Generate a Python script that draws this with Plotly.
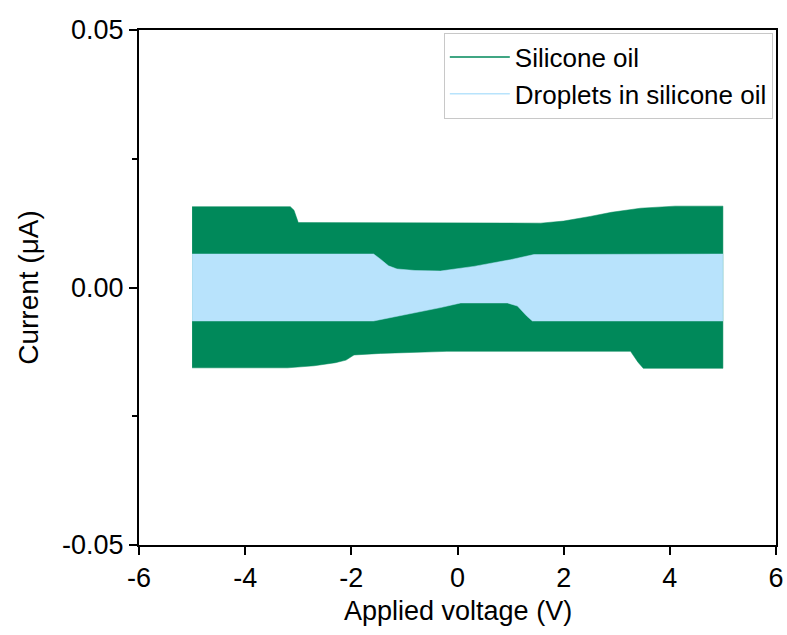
import plotly.graph_objects as go

# Envelope of the silicone oil current signal (V, µA)
oil_upper_v = [-5.0, -3.15, -3.08, -3.0, 1.57, 2.0, 2.5, 2.9, 3.45, 4.1, 5.0]
oil_upper_i = [0.0157, 0.0157, 0.0150, 0.0126, 0.0125, 0.0129, 0.0138, 0.0146, 0.0154, 0.0158, 0.0158]
oil_lower_v = [-5.0, -3.2, -2.7, -2.3, -2.1, -1.95, -1.45, -0.2, 3.26, 3.4, 3.5, 5.0]
oil_lower_i = [-0.0156, -0.0156, -0.0152, -0.0146, -0.0141, -0.0131, -0.0128, -0.0124, -0.0124, -0.0145, -0.0157, -0.0157]

# Envelope of the droplets-in-silicone-oil current signal
drop_upper_v = [-5.0, -1.58, -1.45, -1.3, -1.14, -0.8, -0.32, 0.31, 1.0, 1.44, 5.0]
drop_upper_i = [0.0065, 0.0065, 0.0055, 0.0042, 0.0036, 0.0033, 0.0032, 0.0041, 0.0054, 0.0064, 0.0065]
drop_lower_v = [-5.0, -1.58, -0.32, 0.06, 0.94, 1.13, 1.3, 1.41, 5.0]
drop_lower_i = [-0.0065, -0.0065, -0.0039, -0.0030, -0.0030, -0.0036, -0.0055, -0.0065, -0.0065]

x_ticks = [-6, -4, -2, 0, 2, 4, 6]
x_labels = ["-6", "-4", "-2", "0", "2", "4", "6"]
y_ticks = [-0.05, 0.0, 0.05]
y_labels = ["-0.05", "0.00", "0.05"]

GREEN = "rgb(0,137,90)"
BLUE = "rgb(184,227,252)"
FONT = "Liberation Sans, Arial, sans-serif"

fig = go.Figure()
fig.add_trace(go.Scatter(
    x=oil_upper_v + oil_lower_v[::-1],
    y=oil_upper_i + oil_lower_i[::-1],
    fill="toself", fillcolor=GREEN, mode="lines",
    line=dict(color=GREEN, width=0.5), showlegend=False, hoverinfo="skip"))
fig.add_trace(go.Scatter(
    x=drop_upper_v + drop_lower_v[::-1],
    y=drop_upper_i + drop_lower_i[::-1],
    fill="toself", fillcolor=BLUE, mode="lines",
    line=dict(color=BLUE, width=0.5), showlegend=False, hoverinfo="skip"))
# legend entries
fig.add_trace(go.Scatter(x=[None], y=[None], mode="lines",
                         line=dict(color=GREEN, width=1.5), name="Silicone oil"))
fig.add_trace(go.Scatter(x=[None], y=[None], mode="lines",
                         line=dict(color=BLUE, width=1.5), name="Droplets in silicone oil"))

axis_font = dict(family=FONT, size=27, color="black")
fig.update_layout(
    width=787, height=635,
    margin=dict(l=139, r=11, t=30, b=90, autoexpand=False),
    plot_bgcolor="white", paper_bgcolor="white",
    font=axis_font,
    showlegend=True,
    legend=dict(x=0.995, y=0.995, xanchor="right", yanchor="top",
                bgcolor="white", bordercolor="#c8c8c8", borderwidth=1,
                font=dict(family=FONT, size=26, color="black"),
                itemwidth=60, tracegroupgap=0),
    xaxis=dict(range=[-6, 6], tickvals=x_ticks, ticktext=x_labels,
               ticks="outside", ticklen=8, tickwidth=1.5, tickcolor="black",
               showline=True, linecolor="black", linewidth=2, mirror=True,
               showgrid=False, zeroline=False, automargin=False,
               ticklabeloverflow="allow",
               tickfont=axis_font),
    yaxis=dict(range=[-0.05, 0.05], tickvals=y_ticks, ticktext=y_labels,
               ticks="outside", ticklen=8, tickwidth=1.5, tickcolor="black",
               showline=True, linecolor="black", linewidth=2, mirror=True,
               showgrid=False, zeroline=False, automargin=False,
               ticklabeloverflow="allow",
               minor=dict(tickvals=[-0.025, 0.025], ticks="outside", ticklen=5,
                          tickwidth=1.5, tickcolor="black"),
               title=dict(text="Current (μA)", font=dict(family=FONT, size=28)),
               tickfont=axis_font),
    annotations=[dict(text="Applied voltage (V)", xref="paper", yref="paper",
                      x=0.5, y=0, yshift=-66, xanchor="center", yanchor="middle",
                      showarrow=False, font=dict(family=FONT, size=27, color="black"))],
)

fig.write_html("out.html")
